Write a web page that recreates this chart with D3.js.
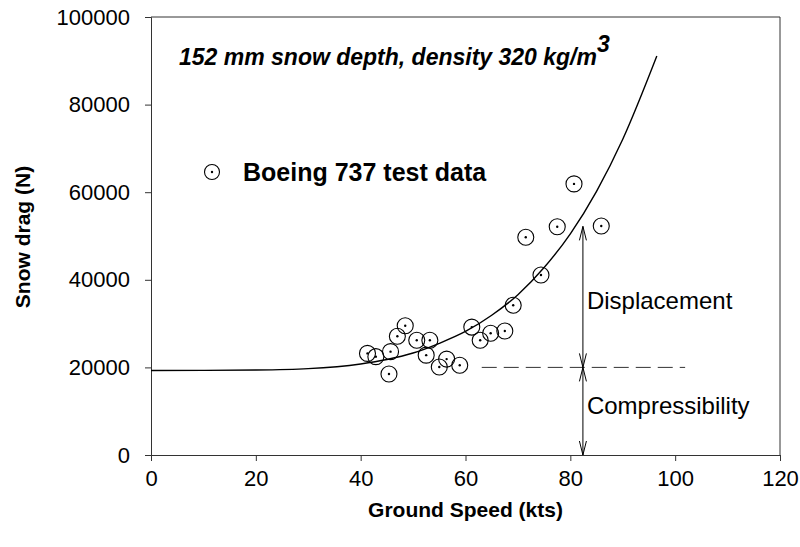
<!DOCTYPE html>
<html>
<head>
<meta charset="utf-8">
<script src="https://cdn.jsdelivr.net/npm/d3@7"></script>
<style>
  html, body { margin: 0; padding: 0; background: #fff; }
  svg { display: block; font-family: Arial, "Liberation Sans", sans-serif; }
</style>
</head>
<body>
<svg id="chart" width="800" height="547"></svg>
<script>
// ---- data ----
const testSpeed = [41.3, 42.9, 45.7, 45.4, 47.0, 48.5, 50.7, 53.2, 52.5, 56.4, 55.0, 58.9, 61.2, 62.8, 64.8, 67.5, 69.1, 74.4, 71.5, 77.5, 80.7, 85.9];
const testDrag  = [23200, 22450, 23600, 18500, 27100, 29500, 26200, 26200, 22800, 21900, 20100, 20500, 29200, 26200, 27800, 28300, 34200, 41100, 49700, 52100, 61900, 52300];

const fitSpeed = [0, 10, 20, 30, 40, 45, 50, 55, 60, 65, 70, 75, 80, 85, 90, 96.5];
const fitDrag  = [19300, 19320, 19400, 19720, 20790, 21800, 23280, 25500, 28200, 31900, 36600, 42800, 50500, 60200, 72100, 91100];

const xTicks = [0, 20, 40, 60, 80, 100, 120];
const yTicks = [0, 20000, 40000, 60000, 80000, 100000];

const refDrag = 20000;            // dashed reference level
const refSpeedRange = [63.1, 101.9];
const arrowSpeed = 82.4;
const displacementRange = [20000, 52200];
const compressRange = [0, 20000];

const titleText = "152 mm snow depth, density 320 kg/m";
const titleSup = "3";
const legendText = "Boeing 737 test data";
const xTitle = "Ground Speed (kts)";
const yTitle = "Snow drag (N)";

// ---- layout ----
const svg = d3.select("#chart");
const L = 151, T = 17, W = 629, H = 438;
const x = d3.scaleLinear().domain([0, 120]).range([L, L + W]);
const y = d3.scaleLinear().domain([0, 100000]).range([T + H, T]);
const axisColor = "#333";

// frame top/right
svg.append("line").attr("x1", L).attr("x2", L + W).attr("y1", T).attr("y2", T)
  .attr("stroke", axisColor).attr("stroke-width", 1);
svg.append("line").attr("x1", L + W).attr("x2", L + W).attr("y1", T).attr("y2", T + H)
  .attr("stroke", axisColor).attr("stroke-width", 1);

// axes
const xAxis = svg.append("g").attr("transform", `translate(0,${T + H})`)
  .call(d3.axisBottom(x).tickValues(xTicks).tickSize(6).tickPadding(9).tickFormat(d3.format("d")));
const yAxis = svg.append("g").attr("transform", `translate(${L},0)`)
  .call(d3.axisLeft(y).tickValues(yTicks).tickSize(6).tickPadding(15).tickFormat(d3.format("d")));
[xAxis, yAxis].forEach(g => {
  g.select(".domain").attr("stroke", axisColor).attr("stroke-width", 1);
  g.selectAll(".tick line").attr("stroke", axisColor);
  g.selectAll(".tick text").attr("fill", "#000").style("font-size", "22px")
    .style("font-family", "Arial, 'Liberation Sans', sans-serif");
});

// axis titles
svg.append("text").attr("x", x(60)).attr("y", 517).attr("text-anchor", "middle")
  .style("font-size", "21px").style("font-weight", "bold").text(xTitle);
svg.append("text").attr("transform", `translate(30,${y(50000) + 1}) rotate(-90)`)
  .attr("text-anchor", "middle").style("font-size", "21px").style("font-weight", "bold").text(yTitle);

// fitted curve
const fitPts = fitSpeed.map((s, i) => [s, fitDrag[i]]);
svg.append("path").datum(fitPts)
  .attr("d", d3.line().x(d => x(d[0])).y(d => y(d[1])).curve(d3.curveMonotoneX))
  .attr("fill", "none").attr("stroke", "#000").attr("stroke-width", 1.4);

// dashed reference line
svg.append("line").attr("x1", x(refSpeedRange[0])).attr("x2", x(refSpeedRange[1]))
  .attr("y1", y(refDrag)).attr("y2", y(refDrag))
  .attr("stroke", "#333").attr("stroke-width", 1).attr("stroke-dasharray", "15,7");

// arrows
function arrowHead(xp, yp, dir) { // dir: -1 points up, +1 points down
  const len = 14, hw = 3.5;
  svg.append("path")
    .attr("d", `M${xp - hw},${yp - dir * len} L${xp},${yp} L${xp + hw},${yp - dir * len}`)
    .attr("fill", "none").attr("stroke", "#000").attr("stroke-width", 1);
}
function dblArrow(r) {
  const xp = x(arrowSpeed), y1 = y(r[1]), y2 = y(r[0]);
  svg.append("line").attr("x1", xp).attr("x2", xp).attr("y1", y1).attr("y2", y2)
    .attr("stroke", "#000").attr("stroke-width", 1);
  arrowHead(xp, y1, -1);
  arrowHead(xp, y2, 1);
}
dblArrow(displacementRange);
dblArrow(compressRange);

svg.append("text").attr("x", x(arrowSpeed) + 4).attr("y", 309)
  .style("font-size", "24px").text("Displacement");
svg.append("text").attr("x", x(arrowSpeed) + 4).attr("y", 414)
  .style("font-size", "24px").text("Compressibility");

// scatter points
const pts = testSpeed.map((s, i) => [s, testDrag[i]]);
const g = svg.append("g");
g.selectAll("circle.o").data(pts).join("circle").attr("class", "o")
  .attr("cx", d => x(d[0])).attr("cy", d => y(d[1])).attr("r", 8)
  .attr("fill", "none").attr("stroke", "#000").attr("stroke-width", 1.1);
g.selectAll("circle.d").data(pts).join("circle").attr("class", "d")
  .attr("cx", d => x(d[0])).attr("cy", d => y(d[1])).attr("r", 1.2).attr("fill", "#000");

// legend
svg.append("circle").attr("cx", 212).attr("cy", 172).attr("r", 7.5).attr("fill", "none")
  .attr("stroke", "#000").attr("stroke-width", 1.1);
svg.append("circle").attr("cx", 212).attr("cy", 172).attr("r", 1.2).attr("fill", "#000");
svg.append("text").attr("x", 243).attr("y", 181).style("font-size", "25px")
  .style("font-weight", "bold").text(legendText);

// title
const t = svg.append("text").attr("x", 179).attr("y", 65)
  .style("font-size", "23px").style("font-weight", "bold").style("font-style", "italic");
t.append("tspan").text(titleText);
t.append("tspan").attr("dy", -13).text(titleSup);
</script>
</body>
</html>
